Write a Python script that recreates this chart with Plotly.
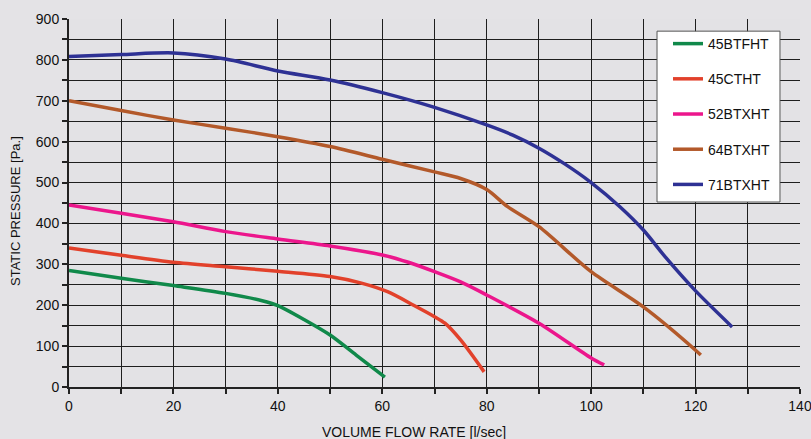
import plotly.graph_objects as go

# ---- data ----
names = ["45BTFHT", "45CTHT", "52BTXHT", "64BTXHT", "71BTXHT"]
colors = ["#10894a", "#e2412b", "#ec168c", "#b3592a", "#2e3194"]

x_45btfht = [0, 10, 20, 30, 37, 40, 45, 50, 55, 60.5]
y_45btfht = [285, 266, 248, 229, 211, 199, 165, 127, 78, 24]

x_45ctht = [0, 10, 20, 30, 40, 50, 56, 61, 66, 70, 72, 75, 79.5]
y_45ctht = [340, 322, 305, 294, 283, 270, 254, 233, 200, 172, 156, 115, 37]

x_52btxht = [0, 10, 20, 30, 40, 50, 60, 65, 70, 75, 80, 90, 100, 102.5]
y_52btxht = [445, 425, 404, 380, 362, 345, 323, 305, 282, 257, 225, 156, 71, 54]

x_64btxht = [0, 10, 20, 30, 40, 50, 60, 70, 75, 80, 84, 90, 100, 110, 120, 121]
y_64btxht = [700, 676, 653, 633, 612, 588, 557, 526, 510, 483, 441, 392, 282, 196, 90, 78]

x_71btxht = [0, 10, 20, 30, 40, 50, 60, 70, 80, 85, 90, 95, 100, 105.5, 110, 114.4, 120, 127]
y_71btxht = [808, 813, 817, 802, 773, 751, 720, 684, 641, 616, 584, 545, 500, 441, 384, 315, 235, 147]

xs = [x_45btfht, x_45ctht, x_52btxht, x_64btxht, x_71btxht]
ys = [y_45btfht, y_45ctht, y_52btxht, y_64btxht, y_71btxht]

x_ticks = list(range(0, 141, 10))
x_ticklabels = [str(v) if v % 20 == 0 else "" for v in x_ticks]
y_ticks = list(range(0, 901, 50))
y_ticklabels = [str(v) if v % 100 == 0 else "" for v in y_ticks]

x_title = "VOLUME FLOW RATE [l/sec]"
y_title = "STATIC PRESSURE [Pa.]"

font_family = "Liberation Sans, Arial, sans-serif"
bg = "#e4e3e6"

fig = go.Figure()
for n, c, x, y in zip(names, colors, xs, ys):
    fig.add_trace(go.Scatter(
        x=x, y=y, name=n, mode="lines",
        line=dict(color=c, width=3.5, shape="spline", smoothing=0.8),
        legendgroup=n,
    ))

# white legend panel (drawn above grid and curves)
fig.add_shape(type="rect", xref="paper", yref="paper",
              x0=0.8044, x1=0.9726, y0=0.5027, y1=0.967,
              fillcolor="white", line=dict(color="#555", width=1), layer="above")

# axis titles as annotations (placed as in the reference)
fig.add_annotation(text=x_title, xref="paper", yref="paper", x=0.4726, y=-0.122,
                   xanchor="center", yanchor="middle", showarrow=False,
                   font=dict(size=14, color="#111"))
fig.add_annotation(text=y_title, xref="paper", yref="paper", x=-0.074, y=0.478,
                   xanchor="center", yanchor="middle", showarrow=False, textangle=-90,
                   font=dict(size=13, color="#111"))

fig.update_layout(
    width=811, height=439,
    margin=dict(l=69, r=11, t=19, b=52, autoexpand=False),
    paper_bgcolor=bg,
    plot_bgcolor="#e3e2e5",
    font=dict(family=font_family, size=14, color="#111"),
    showlegend=True,
    legend=dict(
        x=0.8194, y=0.9755, xanchor="left", yanchor="top",
        bgcolor="rgba(0,0,0,0)", borderwidth=0,
        font=dict(size=14, color="#111"),
        tracegroupgap=14,
        traceorder="grouped",
        itemwidth=30,
    ),
    xaxis=dict(
        range=[0, 140], tickvals=x_ticks, ticktext=x_ticklabels,
        showgrid=True, gridcolor="#1e1e1e", gridwidth=1,
        showline=True, linecolor="#222", linewidth=2,
        ticks="outside", ticklen=5, tickcolor="#222", tickwidth=1.5,
        zeroline=False, automargin=False, ticklabeloverflow="allow",
        tickfont=dict(size=14),
    ),
    yaxis=dict(
        range=[0, 900], tickvals=y_ticks, ticktext=y_ticklabels,
        showgrid=True, gridcolor="#1e1e1e", gridwidth=1,
        showline=True, linecolor="#222", linewidth=2,
        ticks="outside", ticklen=5, tickcolor="#222", tickwidth=1.5,
        zeroline=False, automargin=False, ticklabeloverflow="allow",
        tickfont=dict(size=14),
    ),
)

fig.write_html(
    "out.html",
    config={"displayModeBar": False},
    post_script="document.body.style.margin='0';document.body.style.background='%s';" % bg,
)
